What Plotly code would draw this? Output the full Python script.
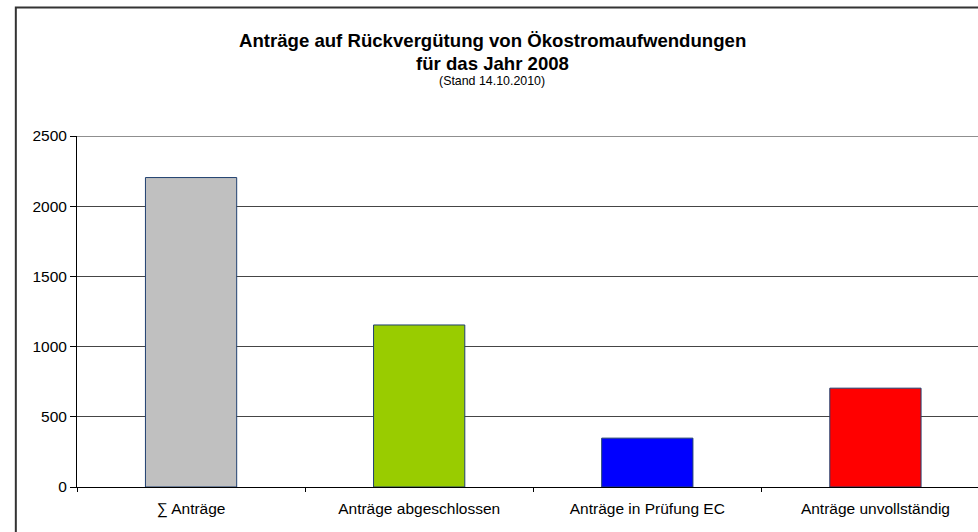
import plotly.graph_objects as go

categories = ["∑ Anträge", "Anträge abgeschlossen", "Anträge in Prüfung EC", "Anträge unvollständig"]
values = [2204, 1154, 348, 704]
colors = ["#C0C0C0", "#99CC00", "#0000FF", "#FF0000"]
y_ticks = [0, 500, 1000, 1500, 2000, 2500]

W, H = 978, 532
L, T, B = 76.7, 135.7, 44.7
pw = W - L
ph = H - T - B

def px_x(p):
    return (p - L) / pw

def px_y(p):
    return (H - B - p) / ph

fig = go.Figure(go.Bar(
    x=categories, y=values,
    marker=dict(color=colors, line=dict(color="#1F3F6F", width=1)),
    width=0.4,
))

fig.update_layout(
    width=W, height=H,
    margin=dict(l=L, r=0, t=T, b=B, pad=0),
    paper_bgcolor="white", plot_bgcolor="white",
    showlegend=False,
    font=dict(family="Liberation Sans, Arial, sans-serif", size=15.5, color="black"),
    xaxis=dict(
        range=[-0.5, -0.5 + pw / 228.2],
        showgrid=False, showline=True, linecolor="black", linewidth=1,
        ticks="outside", tickson="boundaries", ticklen=4, tickcolor="black",
        tickfont=dict(size=15.5), ticklabelstandoff=7, fixedrange=True,
    ),
    yaxis=dict(
        range=[0, 2500], tickvals=y_ticks,
        showgrid=True, gridcolor="#454545", gridwidth=1,
        showline=True, linecolor="black", linewidth=1,
        ticks="outside", ticklen=6, tickcolor="black",
        tickfont=dict(size=15.5), zeroline=False,
    ),
    shapes=[
        dict(type="line", xref="paper", yref="y", x0=0, x1=1, y0=y_ticks[-1], y1=y_ticks[-1],
             line=dict(color="#6a6a6a", width=1.5), layer="below"),
        dict(type="rect", xref="paper", yref="paper",
             x0=px_x(15.5), x1=px_x(980), y0=px_y(534), y1=px_y(7),
             line=dict(color="#333333", width=2), fillcolor="rgba(0,0,0,0)", layer="above"),
    ],
    annotations=[
        dict(text="<b>Anträge auf Rückvergütung von Ökostromaufwendungen</b>", xref="paper", yref="paper",
             x=px_x(492), y=px_y(40), showarrow=False, font=dict(size=18.6), xanchor="center", yanchor="middle"),
        dict(text="<b>für das Jahr 2008</b>", xref="paper", yref="paper",
             x=px_x(492), y=px_y(63), showarrow=False, font=dict(size=18.6), xanchor="center", yanchor="middle"),
        dict(text="(Stand 14.10.2010)", xref="paper", yref="paper",
             x=px_x(492), y=px_y(81), showarrow=False, font=dict(size=12.4), xanchor="center", yanchor="middle"),
    ],
)

fig.write_html("out.html", config={"displayModeBar": False},
               post_script="document.body.style.margin='0';document.body.style.padding='0';")
